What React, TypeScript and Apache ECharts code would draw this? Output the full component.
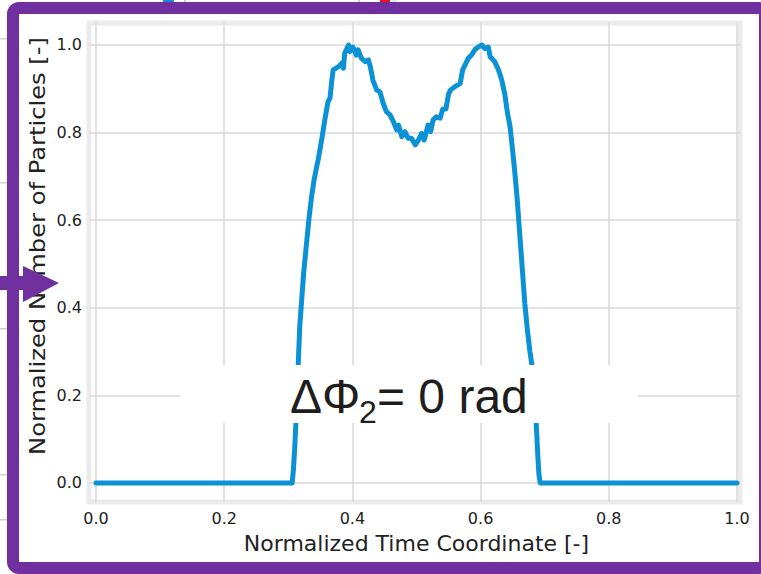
import React, { useEffect, useRef } from "react";
import * as echarts from "echarts";

const tickValues = [0, 0.2, 0.4, 0.6, 0.8, 1.0];

const timeCoord = [
  0, 0.306, 0.308, 0.31, 0.312, 0.314, 0.316, 0.318, 0.321, 0.324, 0.328, 0.332, 0.336, 0.34, 0.344,
  0.347, 0.352, 0.357, 0.362, 0.365, 0.368, 0.37, 0.378, 0.383, 0.386, 0.388, 0.394, 0.396, 0.401,
  0.406, 0.409, 0.414, 0.42, 0.425, 0.428, 0.432, 0.438, 0.443, 0.448, 0.453, 0.459, 0.464, 0.469,
  0.472, 0.477, 0.482, 0.487, 0.492, 0.498, 0.503, 0.508, 0.512, 0.518, 0.522, 0.526, 0.531, 0.537,
  0.541, 0.546, 0.55, 0.553, 0.56, 0.568, 0.572, 0.577, 0.581, 0.586, 0.591, 0.596, 0.602, 0.607,
  0.612, 0.615, 0.622, 0.628, 0.633, 0.638, 0.642, 0.646, 0.651, 0.654, 0.657, 0.66, 0.663, 0.666,
  0.669, 0.673, 0.677, 0.681, 0.684, 0.687, 0.689, 0.691, 0.693, 1.0,
];

const particles = [
  0, 0, 0.03, 0.08, 0.14, 0.21, 0.29, 0.36, 0.42, 0.48, 0.54, 0.6, 0.65, 0.69, 0.72,
  0.741, 0.783, 0.829, 0.871, 0.878, 0.92, 0.943, 0.95, 0.958, 0.947, 0.981, 1.0, 0.985, 0.995,
  0.977, 0.989, 0.97, 0.962, 0.966, 0.95, 0.92, 0.897, 0.893, 0.867, 0.848, 0.84, 0.825, 0.806,
  0.817, 0.791, 0.802, 0.787, 0.787, 0.772, 0.783, 0.798, 0.783, 0.817, 0.802, 0.829, 0.836, 0.833,
  0.854, 0.854, 0.888, 0.897, 0.905, 0.912, 0.943, 0.958, 0.97, 0.977, 0.989, 0.995, 1.0, 0.992,
  0.995, 0.973, 0.962, 0.943, 0.92, 0.886, 0.844, 0.814, 0.745, 0.7, 0.65, 0.59, 0.53, 0.47,
  0.41, 0.35, 0.3, 0.26, 0.2, 0.13, 0.07, 0.02, 0, 0,
];

const xAxisName = "Normalized Time Coordinate [-]";
const yAxisName = "Normalized Number of Particles [-]";

const PURPLE = "#7030a0";
const TICK_FONT = "DejaVu Sans";

export default function App() {
  const ref = useRef<HTMLDivElement>(null);

  useEffect(() => {
    if (!ref.current) return;
    const chart = echarts.init(ref.current, undefined, { renderer: "svg" });
    const data = timeCoord.map((x, i) => [x, particles[i]]);

    const leftMarks = [38, 182, 328, 474, 519].map((y) => ({
      type: "rect",
      shape: { x: 0, y, width: 7, height: 1.5 },
      style: { fill: "#cfcfcf" },
      z: 90,
    }));

    chart.setOption({
      animation: false,
      backgroundColor: "#ffffff",
      grid: {
        left: 89,
        right: 21,
        top: 23,
        bottom: 72,
        show: true,
        borderColor: "#ebebeb",
        borderWidth: 5,
        containLabel: false,
      },
      xAxis: {
        type: "value",
        min: -0.0109,
        max: 1.0047,
        axisLine: { show: false },
        axisTick: { show: false, customValues: tickValues },
        axisLabel: {
          customValues: tickValues,
          formatter: (v: number) => v.toFixed(1),
          fontSize: 16,
          fontFamily: TICK_FONT,
          color: "#222",
          margin: 8,
        },
        splitLine: { show: true, lineStyle: { color: "#d9d9d9", width: 1.5 } },
      },
      yAxis: {
        type: "value",
        min: -0.0434,
        max: 1.0502,
        axisLine: { show: false },
        axisTick: { show: false, customValues: tickValues },
        axisLabel: {
          customValues: tickValues,
          formatter: (v: number) => v.toFixed(1),
          fontSize: 16,
          fontFamily: TICK_FONT,
          color: "#222",
          margin: 7,
        },
        splitLine: { show: true, lineStyle: { color: "#d9d9d9", width: 1.5 } },
      },
      series: [
        {
          type: "line",
          data,
          showSymbol: false,
          symbol: "none",
          clip: false,
          lineStyle: { color: "#0b91d6", width: 5, join: "round", cap: "round" },
          z: 3,
        },
      ],
      graphic: [
        // bits of the chart behind
        ...leftMarks,
        { type: "rect", shape: { x: 163, y: 0, width: 11, height: 3 }, style: { fill: "#1a8ad4" }, z: 90 },
        { type: "rect", shape: { x: 184, y: 0, width: 2, height: 3 }, style: { fill: "#d0d0d0" }, z: 90 },
        { type: "rect", shape: { x: 358, y: 0, width: 2, height: 3 }, style: { fill: "#d0d0d0" }, z: 90 },
        { type: "rect", shape: { x: 380, y: 0, width: 10, height: 3 }, style: { fill: "#e8101a" }, z: 90 },
        { type: "rect", shape: { x: 392, y: 0, width: 5, height: 3 }, style: { fill: "#e6e6e6" }, z: 90 },
        // axis names
        {
          type: "text",
          x: 416.5,
          y: 543,
          style: {
            text: xAxisName,
            font: `22px "${TICK_FONT}"`,
            fill: "#222",
            align: "center",
            verticalAlign: "middle",
          },
          z: 60,
        },
        {
          type: "text",
          x: 37,
          y: 246,
          rotation: Math.PI / 2,
          scaleX: 1.1,
          style: {
            text: yAxisName,
            font: `22px "${TICK_FONT}"`,
            fill: "#222",
            align: "center",
            verticalAlign: "middle",
          },
          z: 60,
        },
        // annotation box
        {
          type: "rect",
          shape: { x: 180, y: 365, width: 458, height: 58 },
          style: { fill: "#ffffff" },
          z: 70,
        },
        {
          type: "text",
          x: 290,
          y: 396,
          style: {
            text: "ΔΦ",
            font: '48px "Liberation Sans"',
            fill: "#1e1e1e",
            align: "left",
            verticalAlign: "middle",
          },
          z: 71,
        },
        {
          type: "text",
          x: 359,
          y: 412,
          style: {
            text: "2",
            font: '32px "Liberation Sans"',
            fill: "#1e1e1e",
            align: "left",
            verticalAlign: "middle",
          },
          z: 71,
        },
        {
          type: "text",
          x: 377,
          y: 396,
          style: {
            text: "= 0 rad",
            font: '48px "Liberation Sans"',
            fill: "#1e1e1e",
            align: "left",
            verticalAlign: "middle",
          },
          z: 71,
        },
        // purple frame
        {
          type: "rect",
          shape: { x: 13, y: 8, width: 752, height: 560, r: 6 },
          style: { fill: "none", stroke: PURPLE, lineWidth: 12 },
          z: 100,
        },
        // arrow
        {
          type: "polygon",
          shape: {
            points: [
              [0, 276],
              [23, 276],
              [23, 266],
              [59, 283],
              [23, 302],
              [23, 290],
              [0, 290],
            ],
          },
          style: { fill: PURPLE },
          z: 110,
        },
      ],
    });

    return () => chart.dispose();
  }, []);

  return (
    <div
      ref={ref}
      style={{ position: "absolute", left: 0, top: 0, width: 761, height: 574 }}
    />
  );
}
